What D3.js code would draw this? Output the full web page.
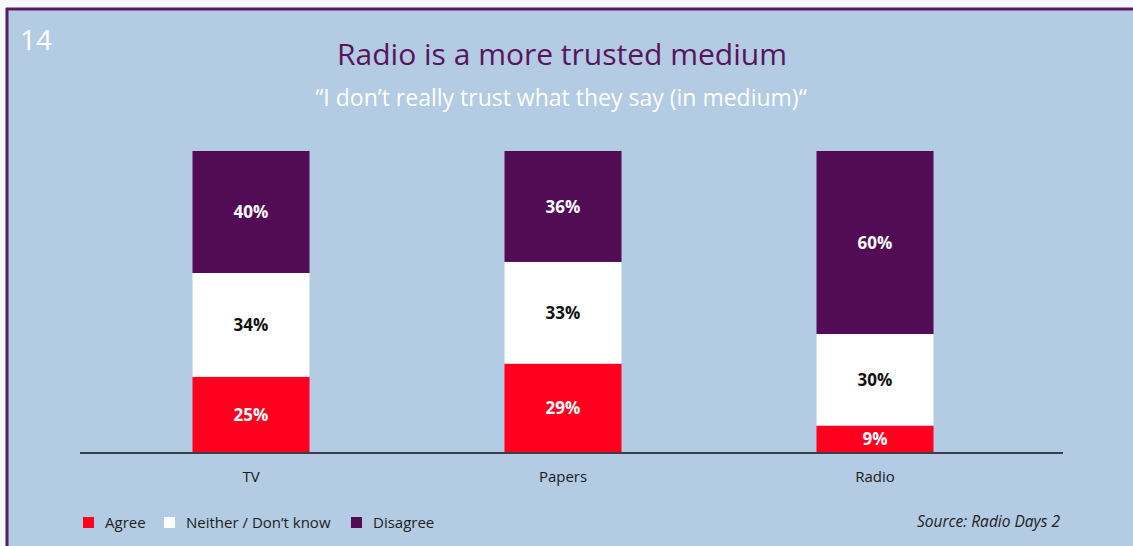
<!DOCTYPE html>
<html>
<head>
<meta charset="utf-8">
<script src="https://cdn.jsdelivr.net/npm/d3@7"></script>
<style>
  html, body { margin: 0; padding: 0; background: #f7f8fb; }
  svg { display: block; font-family: "Open Sans", "Noto Sans", sans-serif; }
</style>
</head>
<body>
<div id="chart"></div>
<script>
// data
const categories = ['TV', 'Papers', 'Radio'];
const seriesNames = ['Agree', 'Neither / Don\u2019t know', 'Disagree'];
const agree = [25, 29, 9];
const neither = [34, 33, 30];
const disagree = [40, 36, 60];

const colors = ['#ff001e', '#ffffff', '#520c56'];
const labelColors = ['#ffffff', '#111111', '#ffffff'];

const width = 1133, height = 546;

const svg = d3.select('#chart')
    .append('svg')
    .attr('width', width)
    .attr('height', height)
    .attr('viewBox', `0 0 ${width} ${height}`);

// panel + purple frame
svg.append('rect')
    .attr('x', 7).attr('y', 9)
    .attr('width', width).attr('height', height)
    .attr('fill', '#b3cbe3');
svg.append('line')
    .attr('x1', 6).attr('x2', width)
    .attr('y1', 9).attr('y2', 9)
    .attr('stroke', '#5a1c60').attr('stroke-width', 3);
svg.append('line')
    .attr('x1', 7).attr('x2', 7)
    .attr('y1', 8).attr('y2', height)
    .attr('stroke', '#5a1c60').attr('stroke-width', 3);

// slide number
svg.append('text')
    .attr('x', 20).attr('y', 50)
    .attr('fill', '#ffffff')
    .attr('font-size', 28)
    .text('14');

// titles
svg.append('text')
    .attr('x', 562).attr('y', 65)
    .attr('text-anchor', 'middle')
    .attr('fill', '#58155c')
    .attr('font-size', 30)
    .text('Radio is a more trusted medium');
svg.append('text')
    .attr('x', 561).attr('y', 106)
    .attr('text-anchor', 'middle')
    .attr('fill', '#ffffff')
    .attr('font-size', 23)
    .text('\u201CI don\u2019t really trust what they say (in medium)\u201C');

// rows for the stack
const rows = categories.map((c, i) => ({
    cat: c,
    [seriesNames[0]]: agree[i],
    [seriesNames[1]]: neither[i],
    [seriesNames[2]]: disagree[i],
}));

const stacked = d3.stack()
    .keys(seriesNames)
    .offset(d3.stackOffsetExpand)(rows);

const xScale = d3.scaleBand()
    .domain(categories)
    .range([95, 1031])
    .paddingInner(0.625)
    .paddingOuter(0.3125);

const yScale = d3.scaleLinear()
    .domain([0, 1])
    .range([453, 151]);

const layers = svg.append('g')
    .selectAll('g')
    .data(stacked)
    .join('g')
    .attr('fill', (d, i) => colors[i]);

layers.selectAll('rect')
    .data(d => d)
    .join('rect')
    .attr('x', d => xScale(d.data.cat))
    .attr('y', d => yScale(d[1]))
    .attr('width', xScale.bandwidth())
    .attr('height', d => yScale(d[0]) - yScale(d[1]));

// value labels
stacked.forEach((layer, li) => {
    svg.append('g')
        .selectAll('text')
        .data(layer)
        .join('text')
        .attr('x', d => xScale(d.data.cat) + xScale.bandwidth() / 2)
        .attr('y', d => (yScale(d[0]) + yScale(d[1])) / 2)
        .attr('dy', '0.36em')
        .attr('text-anchor', 'middle')
        .attr('font-size', 17)
        .attr('font-weight', 'bold')
        .attr('fill', labelColors[li])
        .text(d => d.data[layer.key] + '%');
});

// x axis
const xAxis = d3.axisBottom(xScale).tickSize(0).tickPadding(18);
const gXAxis = svg.append('g')
    .attr('transform', 'translate(0, 453)')
    .call(xAxis);
gXAxis.select('.domain')
    .attr('d', 'M80,0H1063')
    .attr('stroke', '#3b3d48')
    .attr('stroke-width', 2);
gXAxis.selectAll('.tick text')
    .attr('font-family', '"Open Sans", "Noto Sans", sans-serif')
    .attr('font-size', 15)
    .attr('fill', '#1a1a1a');

// legend
const legendX = [83, 164, 351];
const legend = svg.append('g')
    .selectAll('g')
    .data(seriesNames)
    .join('g')
    .attr('transform', (d, i) => `translate(${legendX[i]}, 517)`);
legend.append('rect')
    .attr('width', 11).attr('height', 11)
    .attr('fill', (d, i) => colors[i]);
legend.append('text')
    .attr('x', 22).attr('y', 5.5)
    .attr('dy', '0.36em')
    .attr('font-size', 15)
    .attr('fill', '#222222')
    .text(d => d);

svg.append('text')
    .attr('x', 1060).attr('y', 527)
    .attr('text-anchor', 'end')
    .attr('font-size', 15.5)
    .attr('font-style', 'italic')
    .attr('fill', '#222222')
    .text('Source: Radio Days 2');
</script>
</body>
</html>
